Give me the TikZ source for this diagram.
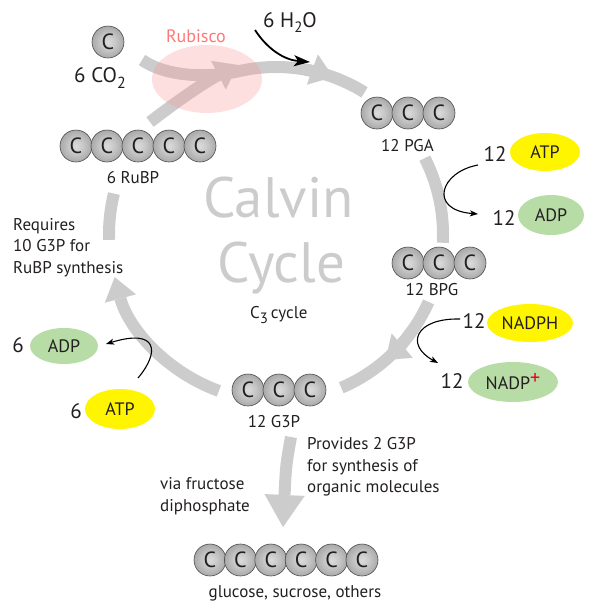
\documentclass[tikz,border=0pt]{standalone}
\usepackage{fontspec}
\setmainfont{PT Sans}
\usetikzlibrary{arrows.meta,shapes.geometric}
\definecolor{cyc}{HTML}{CCCCCC}
\definecolor{atpY}{RGB}{255,245,0}
\definecolor{adpG}{RGB}{184,220,166}
\definecolor{rubT}{RGB}{255,120,120}
\definecolor{rubF}{RGB}{250,150,150}
\definecolor{txt}{HTML}{231F20}
\definecolor{plusR}{RGB}{230,0,40}
\definecolor{ballA}{HTML}{DCDCDC}
\definecolor{ballB}{HTML}{C6C6C6}
\definecolor{ballC}{HTML}{9E9E9E}
\definecolor{ballD}{HTML}{767676}
\definecolor{ballE}{HTML}{5A5A5A}
\pgfdeclareradialshading{carbonball}{\pgfpoint{0bp}{0bp}}{color(0bp)=(ballA); color(12bp)=(ballB); color(30bp)=(ballC); color(44bp)=(ballD); color(50bp)=(ballE)}
\begin{document}
\begin{tikzpicture}[x=1pt,y=-1pt,
  carbon/.style={circle, minimum size=32pt, inner sep=0pt, shade, shading=carbonball, draw=black!70, line width=0.6pt, font=\fontsize{22}{22}\selectfont, text=txt},
  cycband/.style={draw=cyc, line width=12pt},
  gtip/.style={-{Triangle[width=32pt,length=22pt,line width=0.01pt]}},
  lbl/.style={font=\fontsize{17}{21.5}\selectfont, text=txt, inner sep=0pt},
  num/.style={font=\fontsize{21}{21}\selectfont, text=txt, inner sep=0pt},
  molY/.style={ellipse, fill=atpY, inner sep=0pt, font=\fontsize{18}{18}\selectfont, text=txt},
  molG/.style={ellipse, fill=adpG, inner sep=0pt, font=\fontsize{18}{18}\selectfont, text=txt},
  blk/.style={draw=black, line width=1.1pt, -{Stealth[length=8pt,width=6pt,inset=2pt]}},
  big/.style={font=\fontsize{57}{57}\selectfont, text=cyc, inner sep=0pt}
]
\useasboundingbox (0,0) rectangle (602,606);
\coordinate (cc) at (276,234);
\coordinate (co2s) at (142,60);
\coordinate (rubs) at (150,122);
\coordinate (rubt) at (238,65);
\coordinate (dstart) at (291,437);
\coordinate (dend) at (283,527);

% gray cycle
\draw[cycband] (co2s) .. controls (165,76) and (206,79) .. ([shift={(cc)}]258:167) arc[start angle=258, end angle=302, radius=167];
\draw[cycband,gtip] ([shift={(cc)}]280:167) arc[start angle=280, end angle=290, radius=167];
\draw[cycband] ([shift={(cc)}]-27:167) arc[start angle=-27, end angle=3, radius=167];
\draw[cycband] ([shift={(cc)}]24:167) arc[start angle=24, end angle=67, radius=167];
\draw[cycband,gtip] ([shift={(cc)}]35:167) arc[start angle=35, end angle=49, radius=167];
\draw[cycband,gtip] ([shift={(cc)}]110:167) arc[start angle=110, end angle=165, radius=167];
\draw[cycband] ([shift={(cc)}]178:167) arc[start angle=178, end angle=194, radius=167];
\draw[cycband,gtip] (rubs) .. controls (180,99) and (205,82) .. (rubt);
\draw[cycband,-{Triangle[width=40pt,length=32pt,line width=0.01pt]}] (dstart) .. controls (286,465) .. (dend);

% Rubisco
\node[ellipse, fill=rubF, fill opacity=0.3, minimum width=110pt, minimum height=68pt, inner sep=0pt] (rubisco) at (207,79) {};
\node[anchor=base, font=\fontsize{18}{18}\selectfont, text=rubT, inner sep=0pt] (rubl) at (196,42) {Rubisco};

% Calvin cycle title
\node[big, anchor=base] (calvin) at (278.5,217) {Calvin};
\node[big, anchor=base] (cycle) at (281.5,282) {Cycle};
\node[lbl, anchor=base west] (c3) at (250,318) {C\raisebox{-5pt}{\fontsize{15}{15}\selectfont 3}\,cycle};

% molecules
\node[carbon] (co2) at (108,42) {C};
\node[num, anchor=base] (co2l) at (100,82) {6 CO\raisebox{-6pt}{\fontsize{16}{16}\selectfont 2}};
\node[num, anchor=base] (h2o) at (290,27) {6 H\raisebox{-5pt}{\fontsize{15}{15}\selectfont 2}O};

\foreach \i/\x in {1/76,2/107,3/138,4/169,5/200} \node[carbon] (rubp\i) at (\x,146) {C};
\node[lbl, anchor=base] (rubpl) at (133,183) {6 RuBP};

\foreach \i/\x in {1/377,2/408,3/439} \node[carbon] (pga\i) at (\x,113) {C};
\node[lbl, anchor=base] (pgal) at (407.5,151) {12 PGA};

\foreach \i/\x in {1/408,2/439,3/470} \node[carbon] (bpg\i) at (\x,263) {C};
\node[lbl, anchor=base] (bpgl) at (432,295) {12 BPG};

\foreach \i/\x in {1/248,2/279,3/310} \node[carbon] (gtp\i) at (\x,390) {C};
\node[lbl, anchor=base] (gtpl) at (274,427) {12 G3P};

\foreach \i/\x in {1/210,2/240.4,3/270.8,4/301.2,5/331.6,6/362} \node[carbon] (glc\i) at (\x,560) {C};
\node[lbl, anchor=base] (glcl) at (295,597) {glucose, sucrose, others};

% side texts
\node[lbl, anchor=north west, align=left] (req) at (13,218) {Requires\\10 G3P for\\RuBP synthesis};
\node[lbl, anchor=north west, align=left] (prov) at (307,437.5) {Provides 2 G3P\\for synthesis of\\organic molecules};
\node[lbl, anchor=north west, align=left] (via) at (160,477.5) {via fructose\\diphosphate};

% ATP / ADP right
\node[molY, minimum width=70pt, minimum height=38pt] (atpR) at (545,152) {ATP};
\node[num, anchor=base] (natpR) at (495,161) {12};
\node[molG, minimum width=66pt, minimum height=40pt] (adpR) at (551,215) {ADP};
\node[num, anchor=base] (nadpR) at (504,225) {12};
\draw[blk] (478,165) .. controls (440,172) and (428,210) .. (478,214);

% NADPH / NADP+
\node[molY, minimum width=86pt, minimum height=38pt] (nadph) at (530,323) {NADPH};
\node[num, anchor=base] (nnadph) at (474,328) {12};
\node[molG, minimum width=90pt, minimum height=40pt] (nadp) at (513,382) {NADP\raisebox{5pt}{\fontsize{20}{20}\selectfont\color{plusR}+}};
\node[num, anchor=base] (nnadp) at (452,388) {12};
\draw[blk] (460,319) .. controls (415,318) and (405,345) .. (438,363);

% left ATP / ADP
\node[molG, minimum width=68pt, minimum height=36pt] (adpL) at (64,346) {ADP};
\node[num, anchor=base] (nadpL) at (18,352) {6};
\node[molY, minimum width=70pt, minimum height=40pt] (atpL) at (120,409) {ATP};
\node[num, anchor=base] (natpL) at (76,418) {6};
\draw[blk] (138,378) .. controls (160,352) and (158,328) .. (106,344);

% water arrow
\draw[draw=black, line width=1.8pt, -{Stealth[length=16pt,width=11pt,inset=4pt]}] (255,30) .. controls (268,50) and (285,60) .. (310,62);
\end{tikzpicture}
\end{document}
